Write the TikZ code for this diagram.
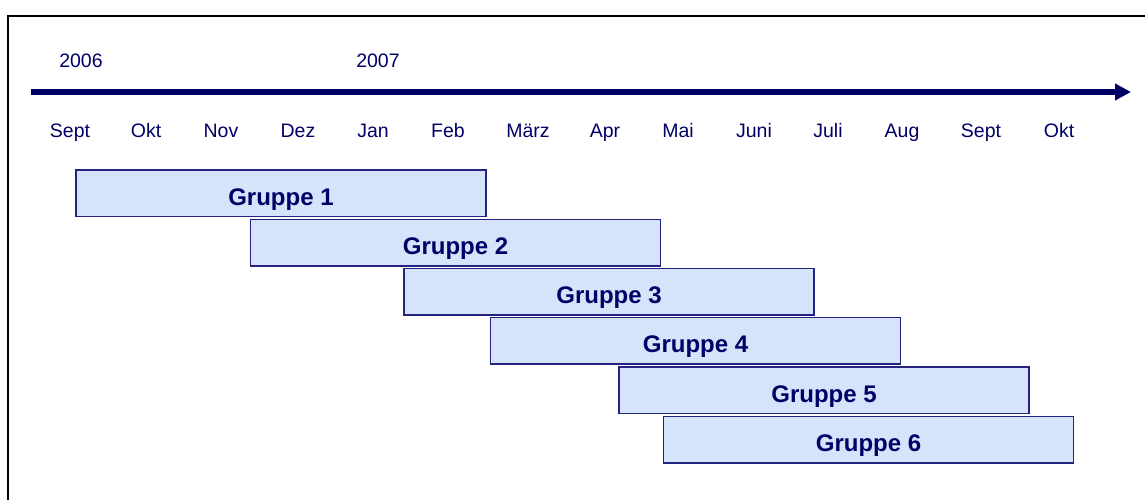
\documentclass[tikz,border=0pt]{standalone}
\usepackage{fontspec}
\setmainfont{Liberation Sans}
\usetikzlibrary{arrows.meta}
\definecolor{navy}{RGB}{0,0,102}
\definecolor{barfill}{RGB}{214,228,251}
\definecolor{barline}{RGB}{36,36,128}
\tikzstyle{frame}=[draw=black,line width=2pt]
\tikzstyle{timeline}=[draw=navy,line width=5.5pt,-{Triangle[length=16pt,width=16pt]}]
\tikzstyle{month}=[text=navy,anchor=base,inner sep=0pt,font=\fontsize{19.5}{20}\selectfont]
\tikzstyle{bar}=[draw=barline,fill=barfill,line width=1.5pt,minimum width=410pt,minimum height=46.5pt,inner sep=0pt,text=navy,text height=24pt,text depth=0pt,font=\fontsize{24}{26}\selectfont\bfseries]

\begin{document}
\begin{tikzpicture}[x=1pt,y=-1pt]
				\useasboundingbox (0,0) rectangle (1145,500);
				\path[frame] (8,16) rectangle (1170,530);

				% First we draw the time axis with the years
				\coordinate (start) at (31,92);
				\coordinate (end) at (1131,92);
				\path[timeline] (start) -- (end);
				\foreach \pos/\name in {{(81,68)/2006}, {(378,68)/2007}}
				\node[month] (y\name) at \pos {\name};

				% Then the months below the axis
				\foreach \x/\name [count=\i] in {70/Sept, 146/Okt, 221/Nov, 298/Dez, 373/Jan, 448/Feb, 528/März,
										605/Apr, 678/Mai, 754/Juni, 828/Juli, 902/Aug, 981/Sept, 1059/Okt}
				\node[month] (m\i) at (\x,137) {\name};

				% Finally the bars of the groups
				\foreach \pos/\name in {{(281,193)/1}, {(455.5,242.5)/2}, {(609,291.5)/3},
										{(695.5,340.5)/4}, {(824,390)/5}, {(868.5,439.5)/6}}
				\node[bar] (g\name) at \pos {Gruppe \name};

			\end{tikzpicture}
\end{document}
